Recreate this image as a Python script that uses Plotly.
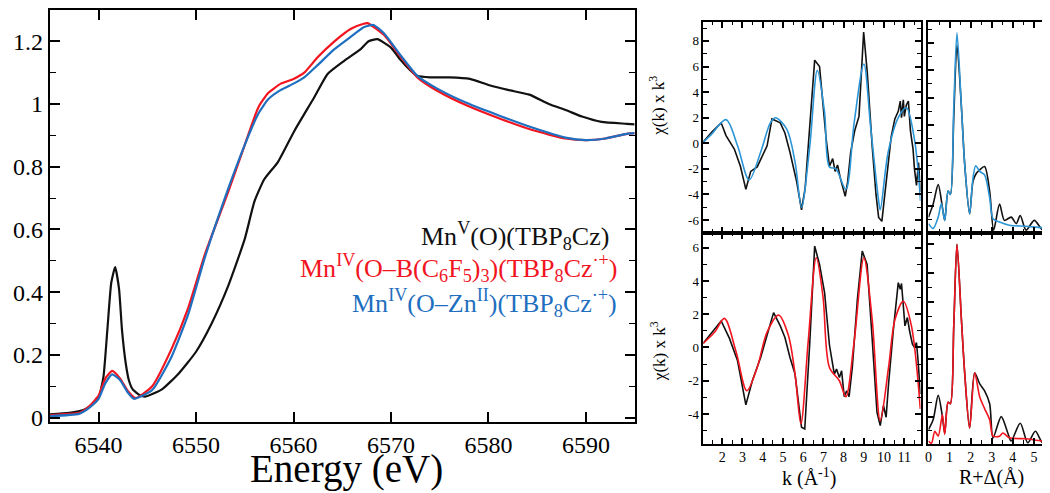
import plotly.graph_objects as go

# ---------------- XANES data (Energy eV, normalized absorption) ----------------
E_black = [6535, 6537, 6538.5, 6539.3, 6540, 6540.5, 6540.9, 6541.3, 6541.7, 6542.1, 6542.4, 6542.8,
           6543.1, 6543.5, 6544.2, 6544.8, 6546.5, 6548.2, 6550, 6551.6, 6553.3, 6555.0, 6556.0,
           6557.0, 6558.4, 6560.1, 6562.1, 6563.5, 6565.2, 6566.9, 6567.7, 6568.6,
           6570, 6571, 6572, 6572.7, 6574, 6576, 6578.1, 6580.1, 6582, 6584.2, 6586.2, 6588,
           6589.6, 6591.6, 6594.2, 6595]
A_black = [0.010, 0.015, 0.025, 0.040, 0.063, 0.13, 0.28, 0.43, 0.48, 0.41, 0.28, 0.17,
           0.12, 0.09, 0.072, 0.067, 0.09, 0.14, 0.21, 0.30, 0.42, 0.57, 0.69,
           0.76, 0.815, 0.915, 1.02, 1.096, 1.138, 1.175, 1.20, 1.207,
           1.18, 1.14, 1.107, 1.09, 1.085, 1.085, 1.08, 1.06, 1.045, 1.03, 1.0, 0.98,
           0.96, 0.943, 0.937, 0.935]

E_red = [6535, 6538, 6539, 6540, 6540.7, 6541.4, 6542.2, 6543, 6543.8, 6545.5, 6547.5, 6549.2,
         6550.9, 6553.3, 6555, 6556.4, 6557.4, 6558.7, 6560, 6561.1, 6562.5, 6564.2,
         6565.9, 6567.2, 6567.6, 6569.3, 6571, 6572.7, 6574.7, 6577.8, 6581.2, 6584.5,
         6587.9, 6590, 6592, 6594.2, 6595]
A_red = [0.008, 0.015, 0.035, 0.07, 0.125, 0.149, 0.125, 0.085, 0.062, 0.10, 0.22, 0.35,
         0.52, 0.72, 0.87, 0.99, 1.035, 1.065, 1.08, 1.10, 1.15, 1.20,
         1.24, 1.256, 1.258, 1.22, 1.15, 1.085, 1.043, 0.995, 0.953, 0.917,
         0.89, 0.885, 0.89, 0.905, 0.907]

E_blue = [6535, 6538, 6539, 6540, 6540.7, 6541.4, 6542.2, 6543, 6543.6, 6545.5, 6547.5, 6549.2,
          6550.9, 6553.3, 6555, 6556.4, 6557.4, 6558.7, 6560, 6561.1, 6562.5, 6564.2, 6565.9,
          6567.2, 6568.2, 6569.3, 6571, 6572.7, 6574.7, 6577.8, 6581.2, 6584.5, 6587.9, 6590,
          6592, 6594.2, 6595]
A_blue = [0.005, 0.012, 0.03, 0.06, 0.11, 0.138, 0.12, 0.08, 0.06, 0.088, 0.195, 0.33,
          0.51, 0.73, 0.87, 0.97, 1.015, 1.045, 1.065, 1.085, 1.125, 1.175, 1.215,
          1.245, 1.252, 1.225, 1.155, 1.09, 1.05, 1.003, 0.962, 0.925, 0.893, 0.885,
          0.89, 0.905, 0.907]

# ---------------- EXAFS k-space, top (Zn adduct) ----------------
k_top_fit = [1.06, 1.47, 2.19, 2.76, 3.33, 3.9, 4.38, 4.63, 5.19, 5.6, 5.92, 6.33, 6.7, 7.06, 7.3,
             7.62, 8.11, 8.52, 9.0, 9.33, 9.73, 9.81, 10.2, 10.7, 11.1, 11.5, 11.8]
chi_top_fit = [0.08, 0.7, 1.85, -0.2, -2.87, -0.7, 1.6, 2.0, 1.1, -1.46, -5.0, -0.2, 5.7, 2.4, -1.85,
               -2.0, -3.6, 1.6, 6.2, 1.36, -4.5, -5.2, -0.7, 2.0, 2.77, 0.3, -4.5]
k_top_dat = [1.06, 1.5, 1.95, 2.19, 2.6, 2.9, 3.17, 3.41, 3.73, 4.0, 4.22, 4.46, 4.87, 5.1, 5.35,
             5.68, 5.92, 6.1, 6.25, 6.57, 6.81, 6.95, 7.14, 7.3, 7.46, 7.58, 7.7, 7.85, 8.08, 8.2,
             8.35, 8.55, 8.76, 8.99, 9.17, 9.41, 9.6, 9.73, 9.89, 10.0, 10.13, 10.35, 10.53, 10.7,
             10.8, 10.86, 10.95, 11.0, 11.1, 11.2, 11.3, 11.43, 11.5, 11.6, 11.7, 11.8]
chi_top_dat = [0.1, 0.9, 1.6, 0.6, -0.45, -1.8, -3.6, -2.2, -1.85, -1.0, -0.2, 1.9, 1.6, 0.8, -0.7,
               -3.0, -5.2, -3.5, -0.45, 6.5, 6.0, 3.5, 0.3, -1.8, -1.2, -2.2, -1.7, -2.8, -4.15, -3.0,
               -0.7, 1.0, 2.1, 8.7, 5.5, -0.2, -4.0, -5.8, -6.1, -4.5, -2.7, 0.5, 1.9, 2.5,
               3.3, 2.0, 3.4, 2.1, 3.0, 3.3, 1.0, -0.45, -2.0, -3.3, -1.5, -3.8]

# ---------------- EXAFS k-space, bottom (B(C6F5)3 adduct) ----------------
k_bot_fit = [1.06, 1.63, 2.11, 2.68, 3.22, 3.73, 4.22, 4.79, 5.27, 5.6, 5.89, 6.25, 6.65, 6.98,
             7.3, 7.79, 8.11, 8.52, 9.0, 9.41, 9.81, 10.22, 10.54, 10.95, 11.35, 11.79]
chi_bot_fit = [0.25, 0.93, 1.75, -0.23, -2.6, -1.2, 0.93, 1.95, 0.74, -1.6, -4.6, 0.35, 5.4, 3.07,
               -1.2, -2.0, -2.96, 0.35, 5.4, 1.7, -4.4, -1.2, 1.7, 2.78, 1.3, -3.7]
k_bot_dat = [1.06, 1.5, 1.95, 2.36, 2.76, 3.17, 3.49, 3.9, 4.22, 4.54, 4.87, 5.1, 5.35, 5.6, 5.92,
             6.08, 6.33, 6.57, 6.81, 7.06, 7.3, 7.54, 7.65, 7.79, 7.9, 8.03, 8.15, 8.27, 8.43,
             8.68, 8.92, 9.16, 9.41, 9.65, 9.81, 9.9, 9.97, 10.1, 10.22, 10.46, 10.7, 10.8,
             10.86, 11.03, 11.15, 11.27, 11.4, 11.51, 11.6, 11.68, 11.79]
chi_bot_dat = [0.25, 0.9, 1.6, 0.55, -0.8, -3.45, -2.0, -0.6, 0.74, 2.1, 1.3, 0.6, -0.6, -1.6, -4.8,
               -4.9, 0.35, 6.1, 5.0, 3.3, 0.15, -1.6, -1.3, -1.8, -1.4, -2.96, -2.6, -2.96, -1.2,
               2.9, 5.8, 5.0, 0.55, -3.9, -4.7, -4.0, -3.5, -4.2, -2.2, 1.1, 3.9, 3.5,
               3.85, 1.3, 1.8, 0.93, 0.2, 0.0, 0.3, -0.8, -2.8]

# ---------------- Fourier transforms (R + delta, A) ----------------
R_top_fit = [0, 0.22, 0.46, 0.61, 0.77, 0.93, 1.04, 1.2, 1.35, 1.56, 1.72, 1.95, 2.11, 2.24, 2.43,
             2.66, 2.9, 3.06, 3.37, 3.84, 4.63, 5.42, 5.97]
FT_top_fit = [0.34, 0.16, 0.58, 1.08, 0.46, 1.54, 1.42, 4.67, 7.39, 4.67, 2.5, 0.7, 2.02, 2.48, 2.27,
              2.14, 1.3, 0.52, 0.4, 0.28, 0.24, 0.19, 0.22]
R_top_dat = [0, 0.22, 0.46, 0.66, 0.77, 0.93, 1.04, 1.2, 1.35, 1.56, 1.72, 1.95, 2.11, 2.27, 2.43,
             2.66, 2.9, 3.09, 3.37, 3.6, 3.92, 4.16, 4.35, 4.63, 5.02, 5.42, 5.65, 5.89]
FT_top_dat = [0.58, 1.06, 1.78, 0.94, 0.46, 1.54, 1.42, 4.31, 6.94, 4.67, 2.5, 0.7, 1.9, 2.2, 2.33,
              2.45, 1.54, 0.1, 1.06, 0.46, 0.58, 0.34, 0.64, 0.1, 0.46, 0.1, 0.34, 0.28]

R_bot_fit = [0, 0.14, 0.3, 0.46, 0.66, 0.77, 0.93, 1.04, 1.2, 1.35, 1.56, 1.72, 1.95, 2.19, 2.43,
             2.66, 2.9, 3.06, 3.37, 3.53, 3.84, 4.63, 5.42, 5.97]
FT_bot_fit = [0.15, 0.07, 0.49, 0.32, 1.06, 0.38, 1.5, 1.45, 4.18, 7.0, 4.4, 2.48, 0.6, 2.53, 1.68,
              1.28, 0.89, 0.32, 0.32, 0.43, 0.26, 0.23, 0.15, 0.2]
R_bot_dat = [0, 0.22, 0.46, 0.66, 0.77, 0.93, 1.04, 1.2, 1.35, 1.56, 1.72, 1.95, 2.19, 2.43, 2.66,
             2.9, 3.06, 3.45, 3.76, 3.92, 4.35, 4.71, 5.07, 5.42, 5.89]
FT_bot_dat = [0.55, 0.89, 1.74, 1.0, 0.43, 1.5, 1.45, 4.18, 7.0, 4.4, 2.48, 0.6, 2.53, 2.14, 1.9,
              1.45, 0.26, 1.0, 0.43, 0.15, 0.77, 0.09, 0.49, 0.09, 0.32]

# ---------------- labels ----------------
label_black = "Mn<sup>V</sup>(O)(TBP<sub>8</sub>Cz)"
label_red = "Mn<sup>IV</sup>(O–B(C<sub>6</sub>F<sub>5</sub>)<sub>3</sub>)(TBP<sub>8</sub>Cz<sup>·+</sup>)"
label_blue = "Mn<sup>IV</sup>(O–Zn<sup>II</sup>)(TBP<sub>8</sub>Cz<sup>·+</sup>)"
xanes_xticks = [6540, 6550, 6560, 6570, 6580, 6590]
xanes_yticks = [0, 0.2, 0.4, 0.6, 0.8, 1, 1.2]
chi_top_ticks = [8, 6, 4, 2, 0, -2, -4, -6]
chi_bot_ticks = [6, 4, 2, 0, -2, -4]
k_ticks = [2, 3, 4, 5, 6, 7, 8, 9, 10, 11]
R_ticks = [0, 1, 2, 3, 4, 5]

BLACK = "#111111"
RED = "#f2141e"
BLUE_X = "#1f6fc0"
BLUE_F = "#2b95d6"
FONT = "Liberation Serif"

W, H = 1050, 493
def fx(px):
    return px / W
def fy(py):
    return 1 - py / H

fig = go.Figure()

fig.add_trace(go.Scatter(x=E_black, y=A_black, mode="lines", line=dict(color=BLACK, width=2.2, shape="spline", smoothing=0.5), xaxis="x", yaxis="y"))
fig.add_trace(go.Scatter(x=E_red, y=A_red, mode="lines", line=dict(color=RED, width=2.2, shape="spline", smoothing=0.5), xaxis="x", yaxis="y"))
fig.add_trace(go.Scatter(x=E_blue, y=A_blue, mode="lines", line=dict(color=BLUE_X, width=2.2, shape="spline", smoothing=0.5), xaxis="x", yaxis="y"))

fig.add_trace(go.Scatter(x=k_top_dat, y=chi_top_dat, mode="lines", line=dict(color=BLACK, width=1.6), xaxis="x2", yaxis="y2"))
fig.add_trace(go.Scatter(x=k_top_fit, y=chi_top_fit, mode="lines", line=dict(color=BLUE_F, width=1.6, shape="spline", smoothing=0.9), xaxis="x2", yaxis="y2"))
fig.add_trace(go.Scatter(x=k_bot_dat, y=chi_bot_dat, mode="lines", line=dict(color=BLACK, width=1.6), xaxis="x3", yaxis="y3"))
fig.add_trace(go.Scatter(x=k_bot_fit, y=chi_bot_fit, mode="lines", line=dict(color=RED, width=1.6, shape="spline", smoothing=0.9), xaxis="x3", yaxis="y3"))
fig.add_trace(go.Scatter(x=R_top_dat, y=FT_top_dat, mode="lines", line=dict(color=BLACK, width=1.6, shape="spline", smoothing=0.8), xaxis="x4", yaxis="y4"))
fig.add_trace(go.Scatter(x=R_top_fit, y=FT_top_fit, mode="lines", line=dict(color=BLUE_F, width=1.6, shape="spline", smoothing=0.8), xaxis="x4", yaxis="y4"))
fig.add_trace(go.Scatter(x=R_bot_dat, y=FT_bot_dat, mode="lines", line=dict(color=BLACK, width=1.6, shape="spline", smoothing=0.8), xaxis="x5", yaxis="y5"))
fig.add_trace(go.Scatter(x=R_bot_fit, y=FT_bot_fit, mode="lines", line=dict(color=RED, width=1.6, shape="spline", smoothing=0.8), xaxis="x5", yaxis="y5"))

def ax(domain, rng, anchor, dtick=None, minor=None, tickvals=None, ticktext=None, showlabels=True,
       ticklen=9, lw=2, fsize=13):
    d = dict(domain=domain, range=rng, anchor=anchor, showgrid=False, zeroline=False,
             showline=True, linecolor="black", linewidth=lw, mirror="allticks",
             ticks="inside", ticklen=ticklen, tickwidth=1.5, tickcolor="black",
             showticklabels=showlabels,
             tickfont=dict(family=FONT, size=fsize, color="black"))
    if tickvals is not None:
        d["tickmode"] = "array"
        d["tickvals"] = tickvals
        d["ticktext"] = ticktext if ticktext is not None else [str(v) for v in tickvals]
    elif dtick is not None:
        d["dtick"] = dtick
        d["tick0"] = 0
    if minor is not None:
        d["minor"] = dict(dtick=minor, tick0=0, ticks="inside", ticklen=max(3, ticklen * 0.6),
                          tickwidth=1.2, tickcolor="black", showgrid=False)
    return d

xl = [fx(38), fx(625)]
yl = [fy(422), fy(2)]
xk = [fx(694), fx(912)]
xr = [fx(920), fx(1047)]
yt = [fy(229), fy(14)]
yb = [fy(444), fy(229)]

fig.update_layout(
    width=W, height=H, autosize=False, showlegend=False,
    font=dict(family=FONT, color="black", size=14),
    margin=dict(l=0, r=0, t=0, b=0, pad=0),
    paper_bgcolor="white", plot_bgcolor="white",
    xaxis=ax(xl, [6535, 6595], "y", tickvals=xanes_xticks, ticklen=10, lw=2.2, fsize=24),
    yaxis=ax(yl, [-0.015, 1.30], "x", tickvals=xanes_yticks, ticktext=[f"{v:g}" for v in xanes_yticks], minor=0.1, ticklen=10, lw=2.2, fsize=24),
    xaxis2=ax(xk, [1.07, 11.8], "y2", tickvals=k_ticks, minor=0.5, showlabels=False, ticklen=6, lw=1.6),
    yaxis2=ax(yt, [-7, 9.5], "x2", tickvals=chi_top_ticks, ticktext=[str(v) for v in chi_top_ticks], minor=1, ticklen=6, lw=1.6, fsize=13),
    xaxis3=ax(xk, [1.07, 11.8], "y3", tickvals=k_ticks, minor=0.5, ticklen=6, lw=1.6, fsize=14),
    yaxis3=ax(yb, [-5.8, 6.9], "x3", tickvals=chi_bot_ticks, ticktext=[str(v) for v in chi_bot_ticks], minor=1, ticklen=6, lw=1.6, fsize=13),
    xaxis4=ax(xr, [0, 6], "y4", tickvals=R_ticks, minor=0.5, showlabels=False, ticklen=6, lw=1.6),
    yaxis4=ax(yt, [0, 7.8], "x4", dtick=1, minor=0.5, showlabels=False, ticklen=6, lw=1.6),
    xaxis5=ax(xr, [0, 6], "y5", tickvals=R_ticks, minor=0.5, ticklen=6, lw=1.6, fsize=14),
    yaxis5=ax(yb, [0.05, 7.4], "x5", dtick=1, minor=0.5, showlabels=False, ticklen=6, lw=1.6),
)

ann = []
def text(px, py, s, size, color="black", xanchor="center", angle=0):
    ann.append(dict(x=fx(px), y=fy(py), xref="paper", yref="paper", text=s, showarrow=False,
                    xanchor=xanchor, yanchor="middle", textangle=angle,
                    font=dict(family=FONT, size=size, color=color)))

text(336, 470, "Energy (eV)", 39)
text(601, 232, label_black, 26, BLACK, xanchor="right")
text(610, 265, label_red, 26, RED, xanchor="right")
text(609, 300, label_blue, 26, BLUE_X, xanchor="right")
text(648, 100, "χ(k) x k<sup>3</sup>", 17, angle=-90)
text(648, 350, "χ(k) x k<sup>3</sup>", 17, angle=-90)
text(800, 478, "k (Å<sup>-1</sup>)", 20)
text(983, 478, "R+Δ(Å)", 20)
fig.update_layout(annotations=ann)

fig.write_html("out.html")
